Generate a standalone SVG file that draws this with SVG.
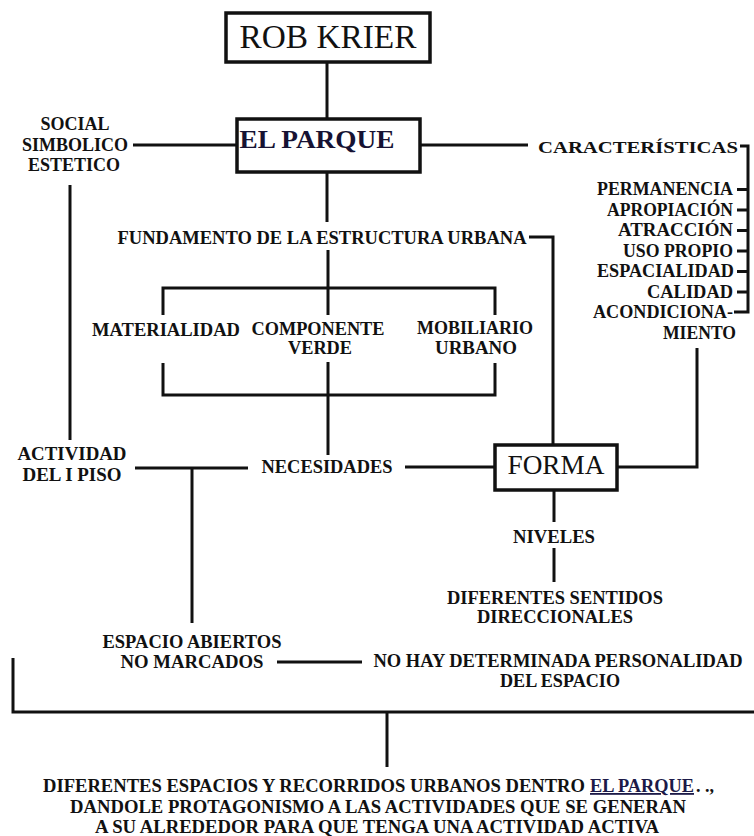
<svg xmlns="http://www.w3.org/2000/svg" width="754" height="836" viewBox="0 0 754 836">
<style>
.ln{fill:none;stroke:#111;stroke-width:3;stroke-linecap:butt;stroke-linejoin:miter}
.box{fill:#fff;stroke:#111;stroke-width:3.5}
.t{font-family:'Liberation Serif','Times New Roman','DejaVu Serif',serif;font-weight:bold;font-size:18px;fill:#111;text-anchor:middle}
.r{text-anchor:end}
.s{text-anchor:start}
.big{font-weight:normal;font-size:33px}
.link{fill:#1c1a48;text-decoration:underline}
</style>
<rect width="754" height="836" fill="#fff"/>
<g id="connectors">
<path class="ln" d="M327 62V119"/>
<path class="ln" d="M133 145H237"/>
<path class="ln" d="M420 145H528"/>
<path class="ln" d="M740 146H748V312H734"/>
<path class="ln" d="M737 189.5H748M737 210H748M737 230.5H748M737 251H748M737 271.5H748M737 292H748"/>
<path class="ln" d="M327 172V222"/>
<path class="ln" d="M328 250V315"/>
<path class="ln" d="M163 315V288H495V315"/>
<path class="ln" d="M163 363V395H495V363"/>
<path class="ln" d="M328 362V455"/>
<path class="ln" d="M529 237H553V445"/>
<path class="ln" d="M697 348V467H617"/>
<path class="ln" d="M405 467H495"/>
<path class="ln" d="M70 185V440"/>
<path class="ln" d="M135 468H248"/>
<path class="ln" d="M192 468V623"/>
<path class="ln" d="M554 490V522"/>
<path class="ln" d="M554 548V582"/>
<path class="ln" d="M277 662H362"/>
<path class="ln" d="M13 658V712H754"/>
<path class="ln" d="M387 712V767"/>
</g>
<g id="rob-krier">
<rect class="box" x="226" y="13" width="204" height="49"/>
<text class="t big" x="328" y="48" textLength="177" lengthAdjust="spacingAndGlyphs">ROB KRIER</text>
</g>
<g id="el-parque">
<rect class="box" x="237" y="119" width="183" height="53"/>
<text class="t" x="317" y="148" style="font-size:26px;fill:#161233" textLength="155" lengthAdjust="spacingAndGlyphs">EL PARQUE</text>
</g>
<g id="social">
<text class="t" x="75" y="130">SOCIAL</text>
<text class="t" x="75" y="151">SIMBOLICO</text>
<text class="t" x="74" y="171">ESTETICO</text>
</g>
<g id="caracteristicas">
<text class="t" x="638" y="153" style="font-size:17px" textLength="200" lengthAdjust="spacingAndGlyphs">CARACTERÍSTICAS</text>
<text class="t r" x="733" y="195" textLength="136" lengthAdjust="spacingAndGlyphs">PERMANENCIA</text>
<text class="t r" x="733" y="215.5" textLength="126" lengthAdjust="spacingAndGlyphs">APROPIACIÓN</text>
<text class="t r" x="733" y="236" textLength="115" lengthAdjust="spacingAndGlyphs">ATRACCIÓN</text>
<text class="t r" x="733" y="256.5" textLength="110" lengthAdjust="spacingAndGlyphs">USO PROPIO</text>
<text class="t r" x="734" y="277" textLength="137" lengthAdjust="spacingAndGlyphs">ESPACIALIDAD</text>
<text class="t r" x="733" y="297.5" textLength="86" lengthAdjust="spacingAndGlyphs">CALIDAD</text>
<text class="t r" x="733" y="318" textLength="140" lengthAdjust="spacingAndGlyphs">ACONDICIONA-</text>
<text class="t r" x="736" y="338.5" textLength="73" lengthAdjust="spacingAndGlyphs">MIENTO</text>
</g>
<g id="fundamento">
<text class="t" x="322" y="244" textLength="409" lengthAdjust="spacingAndGlyphs">FUNDAMENTO DE LA ESTRUCTURA URBANA</text>
</g>
<g id="materialidad">
<text class="t" x="166" y="336" textLength="148" lengthAdjust="spacingAndGlyphs">MATERIALIDAD</text>
</g>
<g id="componente-verde">
<text class="t" x="318" y="335" textLength="133" lengthAdjust="spacingAndGlyphs">COMPONENTE</text>
<text class="t" x="320" y="354" textLength="64" lengthAdjust="spacingAndGlyphs">VERDE</text>
</g>
<g id="mobiliario-urbano">
<text class="t" x="475" y="334" textLength="116" lengthAdjust="spacingAndGlyphs">MOBILIARIO</text>
<text class="t" x="476" y="354" textLength="82" lengthAdjust="spacingAndGlyphs">URBANO</text>
</g>
<g id="actividad">
<text class="t" x="72" y="460" textLength="109" lengthAdjust="spacingAndGlyphs">ACTIVIDAD</text>
<text class="t" x="72" y="481" textLength="99" lengthAdjust="spacingAndGlyphs">DEL I PISO</text>
</g>
<g id="necesidades">
<text class="t" x="327" y="473" textLength="131" lengthAdjust="spacingAndGlyphs">NECESIDADES</text>
</g>
<g id="forma">
<rect class="box" x="495" y="445" width="122" height="45"/>
<text class="t" x="556" y="474" style="font-weight:normal;font-size:27px" textLength="97" lengthAdjust="spacingAndGlyphs">FORMA</text>
</g>
<g id="niveles">
<text class="t" x="554" y="543" textLength="82" lengthAdjust="spacingAndGlyphs">NIVELES</text>
</g>
<g id="sentidos">
<text class="t" x="555" y="604" textLength="216" lengthAdjust="spacingAndGlyphs">DIFERENTES SENTIDOS</text>
<text class="t" x="555" y="623" textLength="156" lengthAdjust="spacingAndGlyphs">DIRECCIONALES</text>
</g>
<g id="espacio-abiertos">
<text class="t" x="192" y="648" textLength="179" lengthAdjust="spacingAndGlyphs">ESPACIO ABIERTOS</text>
<text class="t" x="192" y="668" textLength="143" lengthAdjust="spacingAndGlyphs">NO MARCADOS</text>
</g>
<g id="personalidad">
<text class="t" x="558" y="667" textLength="369" lengthAdjust="spacingAndGlyphs">NO HAY DETERMINADA PERSONALIDAD</text>
<text class="t" x="560" y="687" textLength="120" lengthAdjust="spacingAndGlyphs">DEL ESPACIO</text>
</g>
<g id="conclusion">
<text class="t s" x="43" y="792" textLength="542" lengthAdjust="spacingAndGlyphs">DIFERENTES ESPACIOS Y RECORRIDOS URBANOS DENTRO</text>
<text class="t s link" x="590" y="792" textLength="104" lengthAdjust="spacingAndGlyphs">EL PARQUE</text>
<text class="t s" x="696" y="792">. .,</text>
<text class="t" x="378" y="813" textLength="616" lengthAdjust="spacingAndGlyphs">DANDOLE PROTAGONISMO A LAS ACTIVIDADES QUE SE GENERAN</text>
<text class="t" x="377" y="833" textLength="564" lengthAdjust="spacingAndGlyphs">A SU ALREDEDOR PARA QUE TENGA UNA ACTIVIDAD ACTIVA</text>
</g>
</svg>
